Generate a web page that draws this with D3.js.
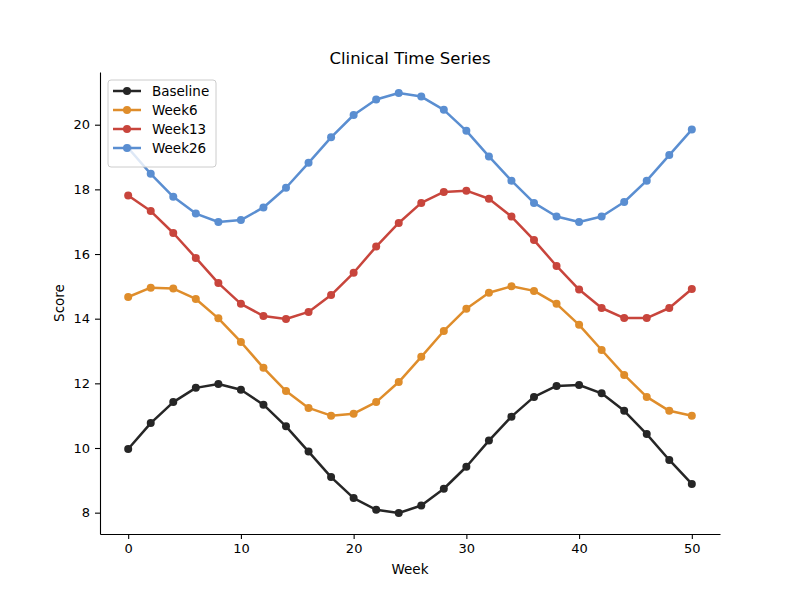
<!DOCTYPE html>
<html lang="en">
<head>
    <meta charset="UTF-8">
    <title>Clinical Time Series</title>
    <script src="https://d3js.org/d3.v7.min.js"></script>
    <style>
        body { margin: 0; background: #fff; }
        text { font-family: "DejaVu Sans", sans-serif; fill: #000; }
    </style>
</head>
<body>
    <div id="chart"></div>
    <script>
        // Data
        const weeks = [0, 2, 4, 6, 8, 10, 12, 14, 16, 18, 20, 22, 24, 26, 28, 30, 32, 34, 36, 38, 40, 42, 44, 46, 48, 50];
        const baseline = [9.97, 10.77, 11.42, 11.86, 11.98, 11.80, 11.34, 10.67, 9.89, 9.10, 8.45, 8.09, 7.99, 8.22, 8.74, 9.42, 10.23, 10.97, 11.58, 11.92, 11.95, 11.69, 11.15, 10.43, 9.63, 8.89];
        const week6 = [14.67, 14.96, 14.93, 14.61, 14.01, 13.28, 12.48, 11.76, 11.24, 11.00, 11.06, 11.42, 12.04, 12.82, 13.62, 14.31, 14.80, 15.00, 14.86, 14.46, 13.81, 13.03, 12.26, 11.58, 11.15, 11.00];
        const week13 = [17.81, 17.33, 16.65, 15.88, 15.10, 14.46, 14.08, 13.99, 14.21, 14.73, 15.42, 16.23, 16.96, 17.58, 17.92, 17.96, 17.71, 17.16, 16.43, 15.63, 14.90, 14.33, 14.02, 14.02, 14.33, 14.92];
        const week26 = [19.28, 18.48, 17.77, 17.25, 16.99, 17.05, 17.44, 18.05, 18.82, 19.61, 20.30, 20.78, 20.98, 20.87, 20.46, 19.81, 19.02, 18.27, 17.58, 17.16, 16.99, 17.16, 17.61, 18.27, 19.06, 19.85];
        const seriesNames = ["Baseline", "Week6", "Week13", "Week26"];
        const seriesColors = ["#262626", "#DF8D2B", "#C8453C", "#5A8ED1"];
        const xTicks = [0, 10, 20, 30, 40, 50];
        const yTicks = [8, 10, 12, 14, 16, 18, 20];

        const width = 800, height = 600;
        const margin = { left: 100, right: 80, top: 72, bottom: 66 };

        const svg = d3.select("#chart").append("svg")
            .attr("width", width)
            .attr("height", height);

        const x = d3.scaleLinear().domain([-2.5, 52.5]).range([margin.left, width - margin.right]);
        const y = d3.scaleLinear().domain([7.34, 21.63]).range([height - margin.bottom, margin.top]);

        // Axes (only left and bottom spines)
        svg.append("g")
            .attr("transform", `translate(0,${height - margin.bottom})`)
            .call(d3.axisBottom(x).tickValues(xTicks).tickSizeInner(5).tickSizeOuter(0).tickPadding(5))
            .call(g => g.selectAll("text").style("font-size", "13px"))
            .call(g => g.selectAll("line, path").attr("stroke", "#000").attr("stroke-width", 1.1));

        svg.append("g")
            .attr("transform", `translate(${margin.left},0)`)
            .call(d3.axisLeft(y).tickValues(yTicks).tickSizeInner(5).tickSizeOuter(0).tickPadding(5))
            .call(g => g.selectAll("text").style("font-size", "13px"))
            .call(g => g.selectAll("line, path").attr("stroke", "#000").attr("stroke-width", 1.1));

        // Axis labels and title
        svg.append("text")
            .attr("x", (margin.left + width - margin.right) / 2)
            .attr("y", 574)
            .attr("text-anchor", "middle")
            .style("font-size", "13.5px")
            .text("Week");

        svg.append("text")
            .attr("transform", `translate(64,${(margin.top + height - margin.bottom) / 2}) rotate(-90)`)
            .attr("text-anchor", "middle")
            .style("font-size", "13.5px")
            .text("Score");

        svg.append("text")
            .attr("x", (margin.left + width - margin.right) / 2)
            .attr("y", 64)
            .attr("text-anchor", "middle")
            .style("font-size", "16.5px")
            .text("Clinical Time Series");

        // Lines with markers
        const allSeries = [baseline, week6, week13, week26];
        const line = d3.line().x((d, i) => x(weeks[i])).y(d => y(d));

        allSeries.forEach((vals, s) => {
            const g = svg.append("g");
            g.append("path")
                .datum(vals)
                .attr("d", line)
                .attr("fill", "none")
                .attr("stroke", seriesColors[s])
                .attr("stroke-width", 2.5)
                .attr("stroke-linejoin", "round");
            g.selectAll("circle")
                .data(vals)
                .enter()
                .append("circle")
                .attr("cx", (d, i) => x(weeks[i]))
                .attr("cy", d => y(d))
                .attr("r", 4)
                .attr("fill", seriesColors[s]);
        });

        // Legend
        const legend = svg.append("g").attr("transform", "translate(108,80)");
        legend.append("rect")
            .attr("width", 108)
            .attr("height", 87)
            .attr("rx", 3)
            .attr("fill", "#fff")
            .attr("fill-opacity", 0.8)
            .attr("stroke", "#ccc");

        seriesNames.forEach((name, i) => {
            const yy = 11 + i * 19;
            legend.append("line")
                .attr("x1", 5).attr("x2", 33)
                .attr("y1", yy).attr("y2", yy)
                .attr("stroke", seriesColors[i])
                .attr("stroke-width", 2.5);
            legend.append("circle")
                .attr("cx", 19).attr("cy", yy).attr("r", 4)
                .attr("fill", seriesColors[i]);
            legend.append("text")
                .attr("x", 44).attr("y", yy)
                .attr("dy", "0.35em")
                .style("font-size", "13.5px")
                .text(name);
        });
    </script>
</body>
</html>
